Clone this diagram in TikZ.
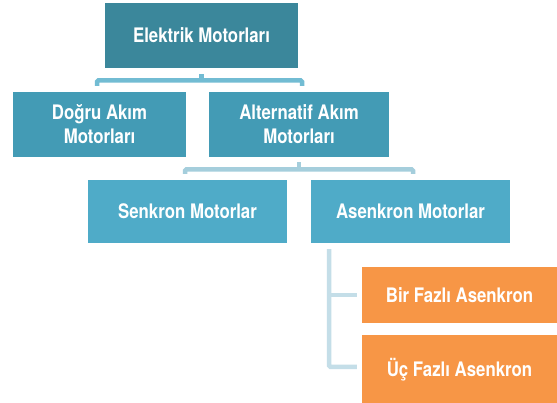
\documentclass[tikz,border=0pt]{standalone}
\usepackage{fontspec}
\newfontfamily\lab[FakeStretch=0.84]{TeX Gyre Heros}
\usetikzlibrary{calc}
\definecolor{cTop}{HTML}{3B879B}
\definecolor{cMid}{HTML}{439BB5}
\definecolor{cLow}{HTML}{4FABC8}
\definecolor{cOr}{HTML}{F79646}
\definecolor{cLa}{HTML}{72BCD3}
\definecolor{cLb}{HTML}{A5CEDC}
\definecolor{cLc}{HTML}{C4DEE8}
\begin{document}
\begin{tikzpicture}[x=1pt,y=1pt,
  box/.style={rectangle,inner sep=0pt,align=center,text=white,
    font=\lab\bfseries\fontsize{20}{24}\selectfont},
  conn/.style={line width=4.5pt,rounded corners=1.5pt}]
\useasboundingbox (0,0) rectangle (557,403);
\fill[white] (0,0) rectangle (557,403);
\node[box,fill=cTop,minimum width=193pt,minimum height=65pt] (top) at (201.5,367.5) {Elektrik Motorları};
\node[box,fill=cMid,minimum width=173pt,minimum height=65pt] (dc) at (99.5,278.5) {Doğru Akım\\Motorları};
\node[box,fill=cMid,minimum width=180pt,minimum height=65pt] (ac) at (299,278.5) {Alternatif Akım\\Motorları};
\node[box,fill=cLow,minimum width=199pt,minimum height=63pt] (sk) at (187.5,191.5) {Senkron Motorlar};
\node[box,fill=cLow,minimum width=199pt,minimum height=63pt] (ak) at (410.5,191.5) {Asenkron Motorlar};
\node[box,fill=cOr,minimum width=195pt,minimum height=56pt] (bir) at (459.5,108) {Bir Fazlı Asenkron};
\begin{scope}
\clip (0,0) rectangle (557,403);
\node[box,fill=cOr,minimum width=195pt,minimum height=69pt] (uc) at (459.5,33.5) {Üç Fazlı Asenkron};
\end{scope}
% bracket 1
\draw[conn,cLa] ([shift={(-2.5,6)}]dc.north) |- ([shift={(3,11.5)}]ac.north) -- ([shift={(3,6)}]ac.north);
\draw[line width=4.5pt,cLa] ([yshift=-6]top.south) -- ([yshift=-14]top.south);
% bracket 2
\draw[conn,cLb] ([shift={(-2.5,6)}]sk.north) |- ([shift={(2.5,10.5)}]ak.north) -- ([shift={(2.5,6)}]ak.north);
\draw[line width=4.5pt,cLb] ([yshift=-5]ac.south) -- ([yshift=-13]ac.south);
% bracket 3
\draw[conn,cLc] ([shift={(-81.5,-6)}]ak.south) |- ([xshift=-5]uc.west |- 0,36);
\draw[line width=4.5pt,cLc] ([xshift=-81.5]ak.south |- bir.west) -- ([xshift=-5]bir.west);
\end{tikzpicture}
\end{document}
